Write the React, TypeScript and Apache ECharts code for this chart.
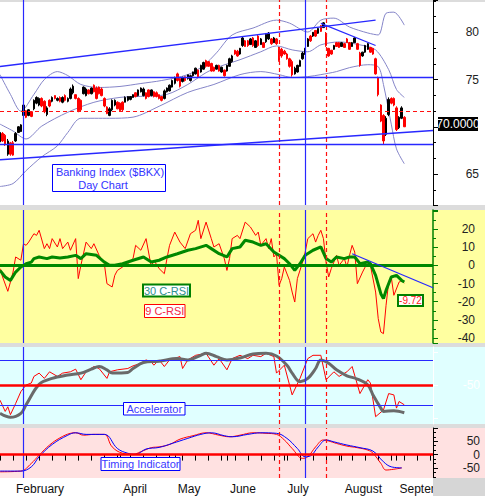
import React, { useEffect, useRef } from "react";
import * as echarts from "echarts";

const HOLIDAYS = ["2015-02-16", "2015-04-03", "2015-05-25", "2015-07-03", "2015-09-07"];
const MONTH_LABELS: Record<string, string> = {
  "2015-02-02": "February",
  "2015-04-01": "April",
  "2015-05-01": "May",
  "2015-06-01": "June",
  "2015-07-01": "July",
  "2015-08-03": "August",
  "2015-09-01": "September",
};

function buildDays(startIso: string, n: number): string[] {
  const out: string[] = [];
  let t = Date.parse(startIso + "T00:00:00Z");
  while (out.length < n) {
    const d = new Date(t);
    const wd = d.getUTCDay();
    const s = d.toISOString().slice(0, 10);
    if (wd !== 0 && wd !== 6 && !HOLIDAYS.includes(s)) out.push(s);
    t += 86400000;
  }
  return out;
}
const categories = buildDays("2015-01-26", 167);

// [open, close, low, high]
const ohlc: number[][] = [
  [68.4, 69.4, 68.19, 69.55], [69.3, 68.5, 68.4, 69.44], [69.1, 68.1, 67.98, 69.24], [67.1, 68.5, 66.93, 68.71],
  [68.3, 67.1, 66.93, 68.4], [68.3, 67.0, 66.93, 68.5], [68.5, 69.3, 68.4, 69.44], [69.4, 70.0, 69.34, 70.07],
  [69.5, 70.2, 69.44, 70.28], [71.2, 72.3, 71.12, 72.38], [71.7, 71.0, 70.91, 71.75], [71.2, 71.8, 71.12, 71.86],
  [71.6, 71.1, 71.02, 71.65], [71.9, 72.8, 71.75, 72.9], [72.5, 73.1, 72.38, 73.22], [72.3, 73.0, 72.17, 73.11],
  [73.0, 72.2, 72.07, 73.11], [72.7, 71.6, 71.44, 72.8], [71.3, 72.0, 71.12, 72.17], [72.8, 72.2, 72.07, 72.9],
  [72.7, 73.1, 72.59, 73.22], [73.3, 73.0, 72.9, 73.32], [72.8, 73.0, 72.69, 73.11], [73.1, 72.7, 72.59, 73.22],
  [72.6, 73.1, 72.49, 73.22], [73.3, 72.8, 72.69, 73.43], [72.7, 73.0, 72.59, 73.11], [73.0, 74.0, 72.9, 74.16],
  [73.6, 74.3, 73.43, 74.48], [73.4, 73.0, 72.9, 73.43], [73.0, 71.7, 71.54, 73.11], [72.8, 71.8, 71.65, 72.9],
  [73.5, 74.2, 73.43, 74.27], [73.3, 74.0, 73.22, 74.16], [73.9, 73.5, 73.43, 73.95], [73.5, 74.1, 73.43, 74.16],
  [74.4, 73.7, 73.64, 74.48], [74.1, 73.0, 72.9, 74.27], [74.2, 73.5, 73.43, 74.27], [74.0, 73.3, 73.22, 74.16],
  [73.0, 72.2, 72.07, 73.11], [72.1, 71.4, 71.33, 72.17], [71.2, 71.9, 71.12, 72.07], [71.8, 72.8, 71.65, 72.9],
  [72.3, 72.8, 72.17, 72.9], [72.6, 71.9, 71.86, 72.69], [72.5, 71.7, 71.65, 72.59], [72.6, 71.8, 71.65, 72.69],
  [72.6, 73.1, 72.59, 73.22], [72.8, 73.2, 72.69, 73.22], [72.9, 73.2, 72.8, 73.22], [73.1, 73.4, 73.11, 73.43],
  [73.6, 73.2, 73.11, 73.64], [73.3, 73.9, 73.22, 73.95], [73.7, 74.1, 73.64, 74.16], [73.3, 74.0, 73.22, 74.16],
  [73.6, 73.0, 72.9, 73.64], [73.9, 73.2, 73.11, 73.95], [73.3, 73.9, 73.22, 73.95], [73.7, 73.2, 73.11, 73.74],
  [73.6, 73.2, 73.11, 73.74], [73.4, 73.0, 72.9, 73.43], [73.2, 72.8, 72.69, 73.22], [73.0, 73.8, 72.9, 73.95],
  [73.7, 74.1, 73.64, 74.16], [73.8, 74.4, 73.74, 74.48], [74.2, 74.9, 74.16, 75.0], [74.6, 75.2, 74.48, 75.31],
  [75.6, 74.9, 74.79, 75.73], [75.1, 74.3, 74.16, 75.21], [74.8, 75.2, 74.69, 75.31], [75.3, 74.9, 74.79, 75.31],
  [75.1, 75.5, 75.0, 75.52], [74.9, 75.4, 74.79, 75.52], [75.4, 75.8, 75.31, 75.84], [75.6, 76.2, 75.52, 76.26],
  [76.0, 75.3, 75.21, 76.05], [75.8, 76.5, 75.73, 76.57], [76.1, 76.8, 76.05, 76.89], [77.0, 76.4, 76.26, 77.1],
  [76.9, 76.4, 76.36, 76.95], [76.7, 75.9, 75.84, 76.78], [76.3, 75.9, 75.84, 76.36], [76.1, 76.5, 76.05, 76.57],
  [76.5, 75.9, 75.84, 76.57], [75.8, 76.3, 75.73, 76.36], [76.0, 75.4, 75.31, 76.05], [75.9, 76.5, 75.84, 76.57],
  [76.4, 77.2, 76.36, 77.31], [76.9, 77.5, 76.78, 77.62], [78.1, 77.7, 77.62, 78.14], [78.0, 77.5, 77.41, 78.14],
  [77.7, 78.3, 77.62, 78.35], [78.6, 79.4, 78.46, 79.51], [79.1, 78.5, 78.46, 79.19], [79.1, 78.6, 78.46, 79.19],
  [78.7, 79.3, 78.67, 79.4], [79.4, 78.6, 78.46, 79.51], [78.4, 79.1, 78.35, 79.19], [79.6, 78.6, 78.46, 79.72],
  [78.7, 79.3, 78.67, 79.4], [78.9, 78.4, 78.35, 78.98], [79.0, 79.8, 78.88, 79.93], [79.3, 79.9, 79.19, 80.03],
  [79.3, 78.8, 78.67, 79.4], [78.9, 79.4, 78.88, 79.51], [79.3, 78.8, 78.67, 79.4], [78.3, 77.0, 76.89, 78.46],
  [78.2, 77.5, 77.31, 78.35], [78.0, 77.7, 77.62, 78.14], [77.7, 77.2, 77.1, 77.83], [77.2, 76.4, 76.26, 77.31],
  [76.9, 75.5, 75.31, 77.1], [75.6, 76.2, 75.52, 76.36], [75.8, 76.5, 75.73, 76.57], [76.4, 77.0, 76.36, 77.1],
  [77.2, 77.8, 77.1, 77.94], [77.7, 78.3, 77.62, 78.35], [78.5, 79.3, 78.46, 79.4], [79.6, 79.1, 78.98, 79.72],
  [79.6, 80.0, 79.51, 80.03], [80.2, 79.6, 79.51, 80.24], [79.9, 80.4, 79.82, 80.45], [80.7, 80.1, 80.03, 80.76],
  [80.5, 81.0, 80.45, 81.08], [79.9, 78.6, 78.46, 80.03], [78.3, 77.5, 77.41, 78.35], [78.1, 77.7, 77.62, 78.14],
  [78.2, 78.6, 78.14, 78.67], [78.9, 78.5, 78.46, 78.98], [78.9, 78.4, 78.35, 78.98], [78.5, 78.9, 78.46, 78.98],
  [78.8, 78.4, 78.35, 78.88], [79.3, 78.9, 78.88, 79.4], [78.9, 78.2, 78.14, 78.98], [78.5, 78.9, 78.46, 78.98],
  [78.9, 79.4, 78.88, 79.51], [78.8, 78.2, 78.14, 78.88], [77.8, 76.5, 76.36, 77.94], [77.5, 77.9, 77.41, 77.94],
  [77.9, 78.6, 77.83, 78.67], [78.2, 78.8, 78.14, 78.88], [78.4, 77.9, 77.83, 78.46], [78.3, 77.7, 77.62, 78.35],
  [77.2, 75.6, 75.52, 77.31], [75.2, 73.4, 73.22, 75.31], [72.3, 70.6, 70.49, 72.38], [71.2, 68.5, 68.08, 71.33],
  [69.2, 70.9, 69.03, 71.12], [71.3, 72.9, 71.12, 73.11], [73.0, 72.5, 72.38, 73.11], [73.0, 72.3, 72.17, 73.11],
  [72.0, 69.7, 69.55, 72.17], [69.9, 71.0, 69.76, 71.12], [70.9, 72.0, 70.81, 72.17], [71.0, 70.0, 69.97, 71.12],
];

// [day index, value]
const bbUpper = [[0, 75.52], [4, 73.43], [8, 71.65], [13, 73.43], [17, 75.0], [22, 75.84], [26, 75.42], [31, 74.48], [38, 74.16], [46, 74.27], [54, 74.58], [62, 74.9], [72, 75.52], [78, 76.47], [83, 77.83], [89, 79.72], [97, 80.45], [106, 81.29], [111, 80.97], [118, 80.03], [123, 81.29], [128, 81.5], [134, 80.56], [141, 79.93], [145, 79.72], [148, 82.02], [151, 82.13], [155, 80.76]];
const bbMiddle = [[0, 70.28], [5, 69.55], [10, 68.71], [16, 70.07], [26, 71.54], [36, 72.59], [46, 73.11], [54, 73.22], [64, 73.43], [72, 74.48], [79, 75.73], [84, 76.36], [92, 77.1], [100, 77.94], [106, 78.56], [112, 78.14], [118, 77.94], [123, 78.67], [130, 78.98], [138, 78.67], [144, 78.14], [149, 76.05], [152, 73.95], [155, 73.11]];
const bbLower = [[0, 63.68], [5, 63.99], [10, 65.36], [16, 66.82], [22, 67.98], [26, 69.4], [31, 70.9], [42, 70.9], [51, 71.02], [61, 72.17], [72, 73.64], [82, 74.48], [92, 75.52], [100, 75.84], [107, 75.52], [112, 75.21], [118, 75.31], [123, 75.52], [129, 75.84], [134, 76.26], [141, 76.57], [145, 76.36], [147, 74.48], [150, 70.28], [152, 67.66], [155, 66.09]];

const rsi9 = [[0, -1.8], [1, -6.4], [3, -14.3], [4, -9.2], [5, -3.7], [6, 4.6], [8, 2.8], [9, 11.9], [10, 11], [11, 12.8], [13, 17.4], [14, 16.5], [15, 19.3], [17, 9.2], [18, 11.9], [19, 9.2], [20, 14.7], [22, 10.1], [23, 14.7], [24, 9.2], [26, 12.8], [27, 8.3], [29, 14.7], [30, -7.3], [31, 0], [33, 12.8], [35, 9.2], [36, 11.9], [38, 5.5], [40, 0.9], [41, -10.1], [43, -11.9], [44, -5.5], [45, -2.8], [47, -0.9], [49, 0.9], [51, 3.7], [52, 11], [54, 8.3], [56, 14.7], [58, -0.9], [59, 2.8], [61, -1.8], [63, -4.6], [64, 3.7], [65, 11], [67, 18.3], [69, 12.8], [71, 9.2], [73, 17.4], [75, 19.3], [76, 24.8], [77, 14.7], [79, 23.8], [81, 14.7], [82, 10.1], [84, 11.9], [86, 3.7], [87, -2.8], [88, 3.7], [89, 14.7], [91, 16.5], [92, 14.7], [94, 23.8], [96, 21.1], [98, 16.5], [99, 18.3], [100, 11], [102, 14.7], [103, 9.2], [104, 14.7], [105, 4.6], [106, 6.4], [107, -11], [108, -7.3], [109, -0.9], [111, -8.3], [112, -14.7], [113, -20.2], [114, -7.3], [116, 1.8], [117, 7.3], [118, 14.7], [120, 17.4], [121, 12.8], [122, 16.5], [123, 19.3], [124, 14.7], [125, 1.8], [126, -6.4], [127, -1.8], [128, 1.8], [129, 5.5], [130, 0], [132, 3.7], [133, -0.9], [134, 5.5], [135, 11], [136, 7.3], [137, -10.1], [139, -3.7], [140, -0.9], [141, 0.9], [142, 0], [144, -14.7], [145, -29.3], [146, -36.7], [147, -37.6], [148, -22], [149, -9.2], [150, -6.4], [151, -16.5], [153, -9.2], [154, -8.3], [155, -9.72]];
const rsi30 = [[0, -2.8], [2, -6.4], [4, -8.3], [6, -3.7], [8, -0.9], [10, 0.9], [12, 1.8], [13, 3.7], [15, 4.6], [18, 3.7], [20, 4.6], [23, 4.0], [26, 4.6], [29, 5.5], [31, 3.7], [33, 6.4], [37, 5.5], [40, 1.8], [42, 0], [44, 0], [47, 0.9], [51, 2.8], [55, 4.6], [58, 1.8], [61, 2.8], [64, 4.6], [68, 6.4], [72, 8.3], [75, 9.2], [79, 11], [81, 9.2], [84, 6.4], [87, 4.6], [89, 9.2], [92, 10.1], [94, 13.8], [97, 12.8], [100, 11], [102, 11.9], [105, 7.3], [107, 5.5], [109, 3.7], [111, 0.9], [113, -2.8], [115, 0.9], [117, 5.5], [120, 8.3], [123, 10.1], [125, 3.7], [127, 1.8], [129, 4.6], [132, 3.7], [134, 4.6], [136, 4.6], [138, 0.9], [141, 1.8], [142, 0.9], [144, -5.5], [146, -15.6], [147, -18.3], [148, -13.8], [150, -6.4], [152, -5.5], [154, -8.3], [155, -9.2]];

const accFast = [[0, -73], [2, -90], [3, -83], [4, -95], [6, -78], [8, -60], [10, -50], [12, -47], [13, -37], [15, -32], [17, -40], [19, -30], [22, -37], [24, -32], [27, -30], [29, -26], [31, -42], [33, -30], [36, -22], [38, -25], [41, -40], [42, -30], [45, -27], [49, -25], [51, -21], [54, -17], [56, -12], [58, -15], [59, -20], [61, -12], [63, -22], [65, -12], [69, -7], [70, -25], [72, -12], [75, -5], [79, -2], [82, -20], [84, -10], [87, -27], [89, -10], [92, -5], [95, -10], [97, -5], [100, -7], [102, -2], [105, -7], [106, -32], [109, -20], [112, -65], [115, -40], [118, -10], [120, -5], [123, -5], [125, -42], [128, -30], [130, -37], [133, -30], [135, -22], [138, -63], [141, -42], [142, -47], [144, -98], [147, -88], [149, -63], [151, -65], [152, -85], [153, -75], [155, -80]];
const accSlow = [[0, -93], [4, -99], [8, -93], [10, -80], [15, -49], [20, -40], [26, -35], [31, -32], [35, -26], [38, -22], [41, -27], [43, -32], [49, -31], [51, -25], [55, -16], [61, -14], [68, -10], [72, -12], [77, -5], [79, -2], [83, -7], [87, -12], [92, -9], [97, -3], [102, -2], [106, -6], [110, -20], [112, -32], [115, -45], [118, -40], [121, -25], [123, -12], [126, -17], [129, -27], [133, -36], [137, -41], [141, -50], [143, -65], [146, -85], [147, -90], [151, -89], [155, -92]];

const timingFast = [[0, -64.7], [8, -62], [12, -33], [15, -2], [19, 36], [23, 63], [27, 80], [29, 82], [32, 73], [36, 76], [40, 76], [43, 29], [47, 5], [51, 1], [54, 11], [58, 26], [61, 29], [65, 38], [69, 58], [74, 71], [79, 82], [84, 73], [88, 67], [92, 73], [97, 82], [102, 80], [106, 76], [109, 55], [112, 23], [116, -14], [118, -8], [121, 29], [124, 55], [126, 51], [129, 42], [133, 32], [137, 26], [141, 17], [143, 5], [146, -33], [148, -58], [151, -55], [154, -50]];
const timingSlow = [[0, -62], [8, -62], [12, -46], [15, -8], [20, 38], [26, 73], [29, 82], [33, 76], [40, 76], [45, 23], [49, 5], [52, 1], [56, 21], [61, 27], [66, 42], [72, 61], [77, 76], [81, 82], [86, 71], [89, 67], [95, 76], [100, 82], [106, 80], [110, 61], [114, 23], [117, -8], [119, -5], [122, 29], [125, 55], [128, 48], [133, 36], [138, 26], [143, 13], [147, -27], [150, -46], [154, -50]];

const blueDays = [9, 117];
const redDays = [107, 125];
const priceBlueLevels = [75.28, 68.16];
const priceRedLevels = [71.62];
const upperChannel = [[0, 76.39], [144, 81.29]];
const lowerChannel = [[0, 66.51], [166, 69.6]];
const downTrend = [[123, 80.94], [144, 78.6]];
const rsiTrend = [[135, 6.4], [166, -12.3]];
const accRedLevel = -50;
const accBlueLevels = [-12, -81];
const lastPriceText = "70.0000";
const lastRsiText = "-9.72";

const PRICE_RANGE = [61.72, 83.42];
const RSI_RANGE = [-42.75, 30.46];
const ACC_RANGE = [-109.1, 7.58];
const TIMING_RANGE = [-88, 100];

const FONT = '"Liberation Sans", Arial, sans-serif';
const LAST = categories.length - 1;
const BLUE_C = "#2828FF";
const RED_C = "#FF1010";

function blue(width = 1.2) {
  return { color: BLUE_C, width, type: "solid", opacity: 1 };
}
function redDash() {
  return { color: RED_C, width: 1.2, type: [4, 3], opacity: 1 };
}
function seg(p: number[][], ls: any) {
  return [
    { coord: [categories[p[0][0]], p[0][1]], lineStyle: ls },
    { coord: [categories[p[1][0]], p[1][1]], lineStyle: ls },
  ];
}
function hLine(v: number, ls: any) {
  return seg([[0, v], [LAST, v]], ls);
}
function verticals(range: number[]) {
  return [
    ...blueDays.map((d) => seg([[d, range[0]], [d, range[1]]], blue(1.2))),
    ...redDays.map((d) => seg([[d, range[0]], [d, range[1]]], redDash())),
  ];
}
function ml(data: any[]) {
  return { silent: true, symbol: ["none", "none"], label: { show: false }, animation: false, data };
}
function lineSeries(name: string, xi: number, data: number[][], color: string, width: number, smooth: number | boolean, z = 3) {
  return {
    name, type: "line", xAxisIndex: xi, yAxisIndex: xi, data, showSymbol: false, symbol: "none",
    smooth, lineStyle: { color, width }, itemStyle: { color }, z, animation: false,
  };
}

export default function App() {
  const ref = useRef<HTMLDivElement>(null);
  useEffect(() => {
    if (!ref.current) return;
    const chart = echarts.init(ref.current, undefined, { renderer: "svg" });
    const W = 433;
    const grids = [
      { left: 0, top: 0, width: W, height: 205 },
      { left: 0, top: 210, width: W, height: 133 },
      { left: 0, top: 347, width: W, height: 77 },
      { left: 0, top: 428, width: W, height: 50 },
    ];
    const xAxes = grids.map((_, i) => ({
      type: "category", gridIndex: i, data: categories, boundaryGap: false,
      axisLine: { show: i === 3, lineStyle: { color: "#000", width: 1 } },
      axisTick: {
        show: i === 3, length: 6, lineStyle: { color: "#000" },
        interval: (idx: number, v: string) => idx % 5 === 0 || v in MONTH_LABELS,
      },
      axisLabel: {
        show: i === 3, interval: (_idx: number, v: string) => v in MONTH_LABELS,
        formatter: (v: string) => MONTH_LABELS[v] || "", align: "left", padding: [0, 0, 0, 3],
        margin: 5, fontSize: 12, fontFamily: FONT, color: "#111",
      },
      splitLine: { show: false },
    }));
    const lbl = (margin: number, color: string, hide: number[]) => ({
      align: "right", margin, fontSize: 12, fontFamily: FONT, color, showMinLabel: false, showMaxLabel: false,
      formatter: (v: number) => (hide.includes(v) ? "" : String(v)),
    });
    const yAxes = [
      {
        type: "value", gridIndex: 0, position: "right", min: PRICE_RANGE[0], max: PRICE_RANGE[1], splitNumber: 5,
        axisLine: { show: true, lineStyle: { color: "#000" } },
        axisTick: { show: true, length: 5, lineStyle: { color: "#000" } },
        minorTick: { show: true, splitNumber: 3, length: 3, lineStyle: { color: "#000" } },
        axisLabel: lbl(46, "#222", [70]), splitLine: { show: false },
      },
      {
        type: "value", gridIndex: 1, position: "right", min: RSI_RANGE[0], max: RSI_RANGE[1], splitNumber: 7,
        axisLine: { show: true, lineStyle: { color: "#008000", width: 1.5 } },
        axisTick: { show: true, length: 5, lineStyle: { color: "#008000" } },
        minorTick: { show: true, splitNumber: 2, length: 3, lineStyle: { color: "#008000" } },
        axisLabel: lbl(42, "#222", [30]), splitLine: { show: false },
      },
      {
        type: "value", gridIndex: 2, position: "right", min: ACC_RANGE[0], max: ACC_RANGE[1], splitNumber: 2,
        axisLine: { show: true, lineStyle: { color: "#ffffff" } },
        axisTick: { show: true, length: 5, lineStyle: { color: "#ffffff" } },
        axisLabel: lbl(47, "#ffffff", [0, -100]),
        splitLine: { show: false },
      },
      {
        type: "value", gridIndex: 3, position: "right", min: TIMING_RANGE[0], max: TIMING_RANGE[1], splitNumber: 4,
        axisLine: { show: true, lineStyle: { color: "#000" } },
        axisTick: { show: true, length: 5, lineStyle: { color: "#000" } },
        minorTick: { show: true, splitNumber: 3, length: 3, lineStyle: { color: "#000" } },
        axisLabel: lbl(47, "#222", []), splitLine: { show: false },
      },
    ];

    const bandColor = "#8585C8";
    const series: any[] = [
      {
        ...lineSeries("Upper band", 0, bbUpper, bandColor, 1, 0.3, 2),
        markLine: ml([
          ...verticals(PRICE_RANGE),
          ...priceBlueLevels.map((v) => hLine(v, blue(1.3))),
          ...priceRedLevels.map((v) => hLine(v, redDash())),
          seg(upperChannel, blue(1.5)),
          seg(lowerChannel, blue(1.5)),
          seg(downTrend, blue(1.2)),
        ]),
      },
      lineSeries("Middle band", 0, bbMiddle, bandColor, 1, 0.3, 2),
      lineSeries("Lower band", 0, bbLower, bandColor, 1, 0.3, 2),
      {
        name: "$BKX", type: "candlestick", xAxisIndex: 0, yAxisIndex: 0, data: ohlc, barWidth: 2, z: 4,
        itemStyle: { color: "#000", color0: "#FF0000", borderColor: "#000", borderColor0: "#FF0000", borderWidth: 1 },
      },
      {
        ...lineSeries("9 C-RSI", 1, rsi9, "#FF0000", 1, false, 3),
        markLine: ml([
          ...verticals(RSI_RANGE),
          hLine(0, { color: "#008800", width: 3, type: "solid" }),
          seg(rsiTrend, blue(1.2)),
        ]),
      },
      lineSeries("30 C-RSI", 1, rsi30, "#008800", 3, false, 4),
      {
        ...lineSeries("Accelerator fast", 2, accFast, "#FF0000", 1, false, 3),
        markLine: ml([
          ...verticals(ACC_RANGE),
          hLine(accRedLevel, { color: "#FF0000", width: 2.5, type: "solid" }),
          ...accBlueLevels.map((v) => hLine(v, blue(1.2))),
        ]),
      },
      lineSeries("Accelerator slow", 2, accSlow, "#6A6A6A", 3, 0.35, 4),
      {
        ...lineSeries("Timing fast", 3, timingFast, "#FF0000", 1, 0.4, 3),
        markLine: ml([
          ...verticals(TIMING_RANGE),
          hLine(0, { color: "#FF0000", width: 2.5, type: "solid" }),
        ]),
      },
      lineSeries("Timing slow", 3, timingSlow, "#0000FF", 1, 0.4, 4),
    ];

    const bg = (x: number, y: number, w: number, h: number, fill: string, z = -10) => ({
      type: "rect", shape: { x, y, width: w, height: h }, style: { fill }, z, silent: true,
    });
    const box = (x: number, y: number, w: number, h: number, stroke: string, lw: number, fill = "#fff") => ({
      type: "rect", shape: { x, y, width: w, height: h }, style: { fill, stroke, lineWidth: lw }, z: 100, silent: true,
    });
    const txt = (x: number, y: number, text: string, color: string, size = 11) => ({
      type: "text", x, y, z: 101, silent: true,
      style: {
        text, fill: color, font: `${size}px ${FONT}`,
        align: "center", verticalAlign: "middle", textAlign: "center", textVerticalAlign: "middle",
      },
    });
    const graphic = [
      bg(0, 0, 485, 205, "#FFFFFF"),
      bg(0, 0, 485, 2, "#DCDCDC"),
      bg(0, 205, 485, 5, "#DCDCDC"),
      bg(0, 210, 485, 133, "#FFFFA0"),
      bg(0, 343, 485, 4, "#DCDCDC"),
      bg(0, 347, 485, 77, "#E0FFFF"),
      bg(0, 424, 485, 4, "#DCDCDC"),
      bg(0, 428, 485, 50, "#FFE1E1"),
      bg(0, 478, 433, 18, "#FFFFFF"),
      bg(433, 478, 52, 18, "#D6D6D6", 100),
      box(52.5, 164.5, 113, 27, "#0000FF", 1),
      txt(110, 171.5, "Banking Index ($BKX)", "#3333FF", 11),
      txt(103, 185, "Day Chart", "#3333FF", 11),
      box(143, 284.5, 47, 12, "#008000", 2),
      txt(166.5, 290.5, "30 C-RSI", "#2E9090", 11),
      box(144.5, 304.5, 40.5, 13, "#FF0000", 1),
      txt(164.8, 311, "9 C-RSI", "#F02848", 11),
      box(398, 295, 25, 11, "#008000", 2),
      txt(410.5, 300.5, lastRsiText, "#FF2020", 10),
      box(123.5, 402.5, 61.5, 12.5, "#0000FF", 1),
      txt(154.3, 409, "Accelerator", "#3A3AFF", 11),
      box(101, 457.5, 79, 13, "#0000FF", 1),
      txt(140.5, 464, "Timing Indicator", "#3A3AFF", 11),
      box(438, 117, 40, 14, "#000", 0, "#000"),
      txt(458, 124, lastPriceText, "#FFFFFF", 12),
    ];

    chart.setOption({
      animation: false,
      backgroundColor: "transparent",
      grid: grids,
      xAxis: xAxes,
      yAxis: yAxes,
      series,
      graphic,
    });
    return () => chart.dispose();
  }, []);
  return <div ref={ref} style={{ position: "absolute", left: 0, top: 0, width: 485, height: 496 }} />;
}
